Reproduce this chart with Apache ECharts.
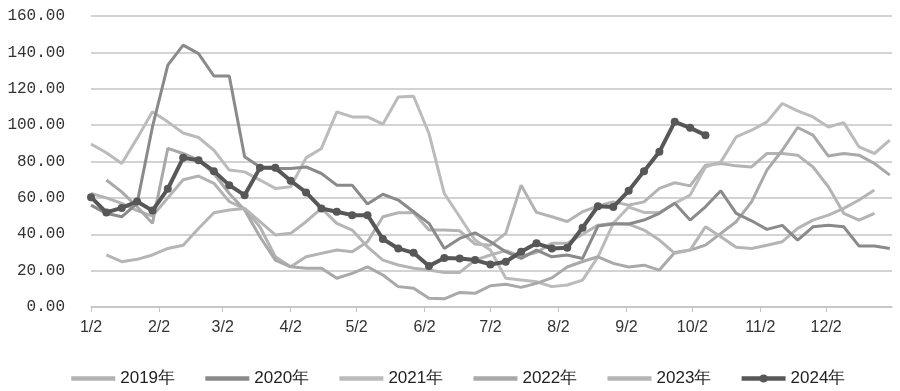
<!DOCTYPE html>
<html>
<head>
<meta charset="utf-8">
<script src="https://cdn.jsdelivr.net/npm/echarts@6/dist/echarts.min.js"></script>
<style>
html,body{margin:0;padding:0;background:#fff;}
#c{width:900px;height:391px;}
</style>
</head>
<body>
<div id="c"></div>
<script>
// weekly observations; index i = week i, day offset from Jan 2 = 7*i
const years = ['2019年','2020年','2021年','2022年','2023年','2024年'];
const s2019 = [62.4,60,57,53,50,60,70,72,68,58,54,44,27.6,22.1,27.6,29.5,31.3,30.4,35.9,49.6,51.8,51.8,42.3,42.3,41.9,34.6,34,40.5,67,52,49.6,47,52.4,55.5,57.8,56,57.8,65.2,68.3,66.6,78,78.9,77.6,77,84.4,84.4,83.5,77,66.1,51.5,47.8,51.5,null];
const s2020 = [56,51.5,49.6,57,99,133,144,139.3,127,127,82.6,77,76.2,76.2,77,73.4,67,67,56.6,62,58.8,52.4,46,32.2,37.7,40.8,35.9,30.4,26.7,31.3,27.6,28.6,26.7,44.5,45.6,45.6,47.8,51.5,57,47.8,55.1,63.9,51.5,47.4,42.7,44.9,36.8,44.1,44.9,44.1,33.5,33.5,32.2];
const s2021 = [89.6,84.8,78.9,92.7,107.3,101.8,95.7,93.2,86.2,75.3,74.3,69.8,65.2,66.1,82,87.2,107.3,104.5,104.5,100.5,115.5,115.9,95.4,62.4,49.6,36.8,31.3,15.8,14.8,13.9,11.2,12.1,14.8,27.6,46,55,52,52,57,61.5,77,79.8,93.5,97.2,101.8,111.9,107.8,104.5,99,101.4,88,84.4,91.7];
const s2022 = [null,69.8,63.3,55.1,46,87.2,84.4,80.7,73.4,62.4,53.3,38.6,25.8,22.1,21.3,21.3,15.8,18.5,22.1,17.6,11.2,10.3,4.8,4.5,8,7.5,11.7,12.5,10.8,13,16,22,25,27.6,24,22,23,20.3,30,31.3,34,40.5,46.9,57.8,75.3,86.2,98.7,94.5,83,84.4,83.5,78.9,72.5];
const s2023 = [null,28.6,24.9,26.2,28.6,32.2,34,43.2,51.8,53.3,54.2,46.9,39.6,40.5,46.9,54.2,46,42.3,33.1,25.8,23.1,21.3,20.3,19,19,25.8,28.6,31,28,30,35,35,40,45,46,45.6,42.3,36.8,29.5,31.3,44.1,38.6,32.8,32.2,34,35.9,43.2,47.8,50.5,54.2,58.8,64.3,null];
const s2024 = [60.4,52,54.5,58,53,65,82,80.7,74.7,67,61.5,76.5,76.5,69.4,63,54.2,52.4,50.5,50.5,37.4,32.2,29.8,22.5,27,26.7,25.8,23.4,24.9,30.4,35,32.2,32.6,43.6,55.4,55,63.9,74.7,85.3,101.8,98.5,94.5];
// month tick positions (day offset from Jan 2) and labels
const monthDays = [0,31,60,91,121,152,182,213,244,274,305,335];
const monthLabels = ['1/2','2/2','3/2','4/2','5/2','6/2','7/2','8/2','9/2','10/2','11/2','12/2'];
const yTicks = [0,20,40,60,80,100,120,140,160];

const allSeries = [s2019,s2020,s2021,s2022,s2023,s2024];
const colors = ['#b3b3b3','#8a8a8a','#bbbbbb','#a9a9a9','#b5b5b5','#575757'];

function toPairs(arr){ return arr.map((v,i)=>[i*7,v]); }

const series = allSeries.map((arr,k)=>{
  const is24 = k===5;
  return {
    name: years[k],
    type: 'line',
    data: toPairs(arr),
    connectNulls: false,
    symbol: is24 ? 'circle' : 'none',
    symbolSize: is24 ? 8 : 0,
    showSymbol: is24,
    itemStyle: {color: colors[k]},
    lineStyle: {color: colors[k], width: is24 ? 4 : 3},
    z: is24 ? 10 : (k===1 ? 4 : 3),
    animation: false
  };
});

const legendData = years.map((y,k)=> k<5 ? {name: y, itemStyle: {opacity: 0}} : {name: y});

const chart = echarts.init(document.getElementById('c'), null, {renderer:'canvas'});
chart.setOption({
  animation: false,
  backgroundColor: '#fff',
  grid: {left: 91, right: 8, top: 16, bottom: 84, containLabel: false},
  xAxis: {
    type: 'value',
    min: 0,
    max: 365,
    axisLine: {show: true, lineStyle: {color: '#c4c4c4', width: 1.5}},
    axisTick: {show: true, customValues: monthDays, length: 5, lineStyle: {color: '#c4c4c4', width: 1}},
    axisLabel: {
      customValues: monthDays,
      formatter: function(v){ const i = monthDays.indexOf(Math.round(v)); return i>=0 ? monthLabels[i] : ''; },
      fontFamily: 'Liberation Sans Narrow, Liberation Sans, sans-serif',
      fontSize: 16,
      color: '#333',
      margin: 13
    },
    splitLine: {show: false}
  },
  yAxis: {
    type: 'value',
    min: yTicks[0],
    max: yTicks[yTicks.length-1],
    interval: 20,
    axisLine: {show: false},
    axisTick: {show: false},
    axisLabel: {
      formatter: function(v){ return v.toFixed(2); },
      fontFamily: 'Liberation Mono, DejaVu Sans Mono, monospace',
      fontSize: 16,
      color: '#333',
      margin: 26
    },
    splitLine: {show: true, lineStyle: {color: '#c4c4c4', width: 1.5}}
  },
  legend: {
    data: legendData,
    left: 64,
    top: 365,
    itemWidth: 44,
    itemHeight: 10,
    itemGap: 28,
    lineStyle: {width: 4.5},
    textStyle: {fontFamily: 'Liberation Sans Narrow, Liberation Sans, sans-serif', fontSize: 17, color: '#222'}
  },
  series: series
});
</script>
</body>
</html>
